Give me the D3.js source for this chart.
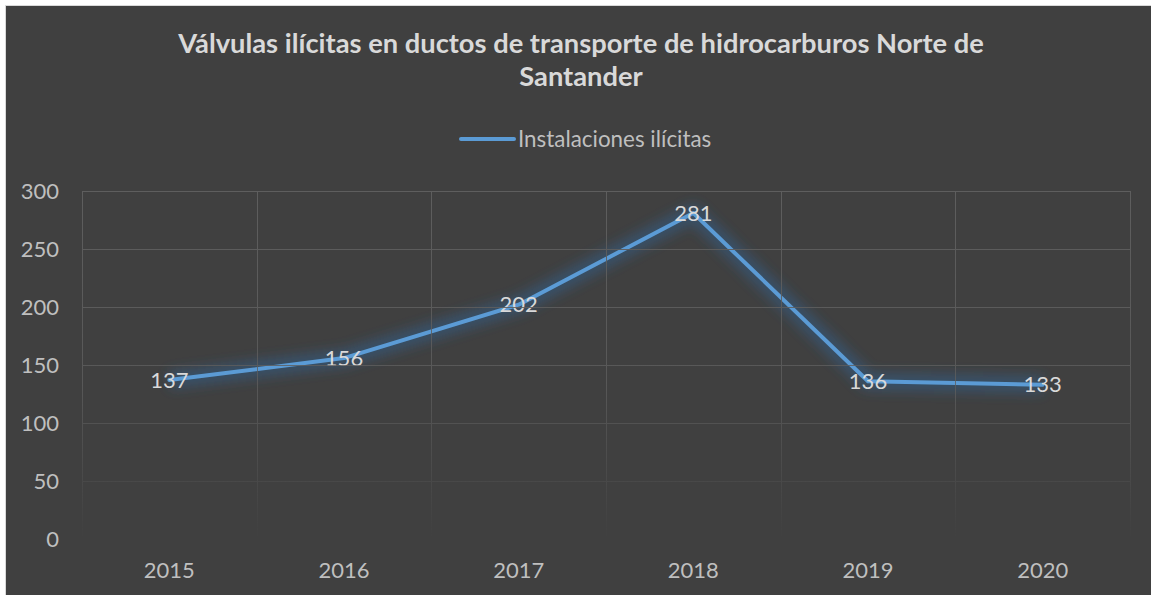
<!DOCTYPE html>
<meta charset="utf-8">
<script src="https://d3js.org/d3.v7.min.js"></script>
<style>
  body { margin: 0; background: #fff; }
  text { font-family: Lato, "Open Sans", sans-serif; }
</style>
<svg id="vis"></svg>
<script>
    // Chart data
    var years = ['2015', '2016', '2017', '2018', '2019', '2020'];
    var valves = [137, 156, 202, 281, 136, 133];
    var yTicks = [0, 50, 100, 150, 200, 250, 300];
    var titleLines = ['Válvulas ilícitas en ductos de transporte de hidrocarburos Norte de', 'Santander'];
    var seriesName = 'Instalaciones ilícitas';

    var W = 1151, H = 595;
    var margin = {top: 191, right: 21, bottom: 56, left: 82},
        width = W - margin.left - margin.right,
        height = H - margin.top - margin.bottom;

    var svg = d3.select('#vis').attr('width', W).attr('height', H);

    var defs = svg.append('defs');
    var glow = defs.append('filter').attr('id', 'glow')
        .attr('x', '-10%').attr('y', '-30%').attr('width', '120%').attr('height', '160%');
    glow.append('feGaussianBlur').attr('stdDeviation', 6);

    var fade = defs.append('linearGradient').attr('id', 'fade')
        .attr('x1', 0).attr('y1', 0).attr('x2', 0).attr('y2', 1);
    fade.append('stop').attr('offset', '0%').attr('stop-color', '#fff').attr('stop-opacity', 1);
    fade.append('stop').attr('offset', '55%').attr('stop-color', '#fff').attr('stop-opacity', 0.8);
    fade.append('stop').attr('offset', '100%').attr('stop-color', '#fff').attr('stop-opacity', 0);
    defs.append('mask').attr('id', 'gridMask')
        .attr('maskUnits', 'userSpaceOnUse')
        .attr('x', 0).attr('y', margin.top - 5).attr('width', W).attr('height', height + 10)
        .append('rect')
        .attr('x', 0).attr('y', margin.top - 2).attr('width', W).attr('height', height + 4)
        .attr('fill', 'url(#fade)');

    // Chart background and frame
    svg.append('rect').attr('x', 5.5).attr('y', 5.5).attr('width', W).attr('height', H)
        .attr('fill', '#404040').attr('stroke', '#d9d9d9').attr('stroke-width', 1);

    // Title
    svg.append('text')
        .attr('x', 581).attr('y', 53)
        .attr('text-anchor', 'middle')
        .style('font-size', '27.3px').style('font-weight', 'bold')
        .style('fill', '#d9d9d9')
        .selectAll('tspan').data(titleLines).enter().append('tspan')
        .attr('x', 581).attr('dy', function (d, i) { return i ? 33 : 0; })
        .text(function (d) { return d; });

    // Legend
    svg.append('line').attr('x1', 461).attr('x2', 514).attr('y1', 139).attr('y2', 139)
        .attr('stroke', '#5b9bd5').attr('stroke-width', 4).attr('stroke-linecap', 'round');
    svg.append('text').attr('x', 518).attr('y', 147)
        .style('font-size', '22.4px').style('fill', '#bfbfbf')
        .text(seriesName);

    var g = svg.append('g').attr('transform', 'translate(' + margin.left + ',' + margin.top + ')');

    var x = d3.scaleBand().domain(years).range([0, width]);
    var y = d3.scaleLinear().domain([0, 300]).range([height, 0]);

    // Gridlines, fading toward the bottom
    var grid = svg.append('g').attr('mask', 'url(#gridMask)')
        .append('g').attr('transform', 'translate(' + margin.left + ',' + margin.top + ')');
    grid.selectAll('.hgrid').data(yTicks.filter(function (d) { return d > 0; })).enter().append('line')
        .attr('x1', 0).attr('x2', width)
        .attr('y1', function (d) { return y(d) + 0.5; }).attr('y2', function (d) { return y(d) + 0.5; })
        .attr('stroke', '#5e5e5e').attr('stroke-width', 1);
    var vlines = years.map(function (d) { return x(d); }).concat([width]);
    grid.selectAll('.vgrid').data(vlines).enter().append('line')
        .attr('x1', function (d) { return Math.round(d) + 0.5; }).attr('x2', function (d) { return Math.round(d) + 0.5; })
        .attr('y1', 0).attr('y2', height)
        .attr('stroke', '#5e5e5e').attr('stroke-width', 1);

    // Y axis labels
    var yAxis = g.append('g').call(d3.axisLeft(y).tickValues(yTicks).tickSize(0).tickPadding(23));
    yAxis.select('.domain').remove();
    yAxis.selectAll('text').style('font-size', '22px').style('fill', '#bfbfbf')
        .style('font-family', 'Lato, sans-serif');

    // X axis labels
    var xAxis = g.append('g').attr('transform', 'translate(0,' + height + ')')
        .call(d3.axisBottom(x).tickSize(0).tickPadding(23));
    xAxis.select('.domain').remove();
    xAxis.selectAll('text').style('font-size', '22px').style('fill', '#bfbfbf')
        .style('font-family', 'Lato, sans-serif');

    // Line with glow
    var line = d3.line()
        .x(function (d, i) { return x(years[i]) + x.bandwidth() / 2; })
        .y(function (d) { return y(d); });

    g.append('path').datum(valves)
        .attr('d', line)
        .attr('fill', 'none')
        .attr('stroke', '#2f5f8f').attr('stroke-opacity', 0.5)
        .attr('stroke-width', 18)
        .attr('stroke-linejoin', 'round')
        .attr('filter', 'url(#glow)');
    g.append('path').datum(valves)
        .attr('d', line)
        .attr('fill', 'none')
        .attr('stroke', '#5b9bd5')
        .attr('stroke-width', 4)
        .attr('stroke-linejoin', 'round')
        .attr('stroke-linecap', 'round');

    // Data labels, centred on each point
    g.selectAll('.lbl').data(valves).enter().append('text')
        .attr('x', function (d, i) { return x(years[i]) + x.bandwidth() / 2; })
        .attr('y', function (d) { return y(d); })
        .attr('dy', '0.35em')
        .attr('text-anchor', 'middle')
        .style('font-size', '22px').style('fill', '#d9d9d9')
        .text(function (d) { return d; });
</script>
